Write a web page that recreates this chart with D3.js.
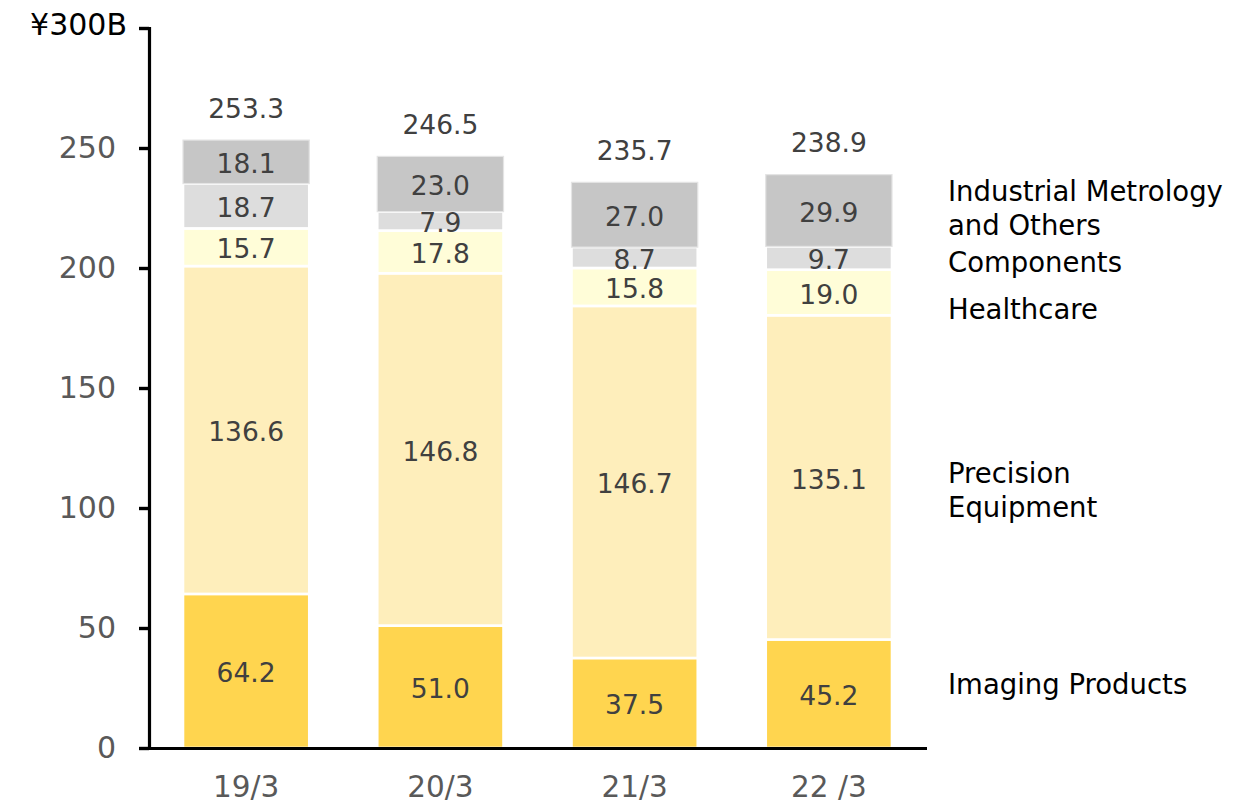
<!DOCTYPE html>
<html>
<head>
<meta charset="utf-8">
<script src="https://cdn.jsdelivr.net/npm/d3@7"></script>
<style>
  html, body { margin: 0; padding: 0; background: #fff; }
  svg { display: block; font-family: "DejaVu Sans", Verdana, sans-serif; }
</style>
</head>
<body>
<svg id="chart" width="1241" height="804"></svg>
<script>
// Fiscal years (March year-end)
const years = ["19/3", "20/3", "21/3", "22 /3"];

// Segment revenue, ¥ billions (bottom to top of each stack)
const imaging     = [64.2, 51.0, 37.5, 45.2];
const precision   = [136.6, 146.8, 146.7, 135.1];
const healthcare  = [15.7, 17.8, 15.8, 19.0];
const components  = [18.7, 7.9, 8.7, 9.7];
const industrial  = [18.1, 23.0, 27.0, 29.9];
const totals      = [253.3, 246.5, 235.7, 238.9];

const segmentNames = ["Imaging Products", "Precision Equipment", "Healthcare", "Components", "Industrial Metrology and Others"];
const segmentValues = [imaging, precision, healthcare, components, industrial];
const segmentColors = ["#FFD54F", "#FEEEBB", "#FFFDD8", "#DDDDDD", "#C6C6C6"];

// Right-hand segment captions (lines of text)
const captionLines = [
  ["Industrial Metrology", "and Others"],
  ["Components"],
  ["Healthcare"],
  ["Precision", "Equipment"],
  ["Imaging Products"]
];
// Value on the y scale where each caption block is centred
const captionAnchors = [225, 202.5, 183, 107.5, 27];

const yTicks = [0, 50, 100, 150, 200, 250, 300];

const svg = d3.select("#chart");

const x = d3.scaleBand()
  .domain(years)
  .range([149, 926])
  .paddingInner(0.35)
  .paddingOuter(0.175);

const y = d3.scaleLinear()
  .domain([0, 300])
  .range([748, 28]);

// Build stacked rows
const rows = years.map((yr, i) => {
  const r = { year: yr };
  segmentNames.forEach((n, k) => { r[n] = segmentValues[k][i]; });
  return r;
});
const stack = d3.stack().keys(segmentNames)(rows);

// Bars
const layers = svg.append("g").selectAll("g")
  .data(stack)
  .join("g")
  .attr("fill", (d, k) => segmentColors[k]);

layers.selectAll("rect")
  .data(d => d.map(p => ({ p, key: d.key, idx: d.index })))
  .join("rect")
  .attr("x", d => x(d.p.data.year))
  .attr("width", x.bandwidth())
  .attr("y", d => y(d.p[1]))
  .attr("height", d => y(d.p[0]) - y(d.p[1]))
  .attr("stroke", d => d.idx === segmentNames.length - 1 ? "#e4e4e4" : "#ffffff")
  .attr("stroke-width", d => d.idx === segmentNames.length - 1 ? 1.2 : 2.6);

// Y axis
const yAxis = svg.append("g")
  .attr("transform", "translate(149,0)")
  .call(d3.axisLeft(y).tickValues(yTicks).tickSize(10).tickPadding(23)
    .tickFormat(d => d === 300 ? "¥300B" : d3.format("d")(d)));
yAxis.select(".domain").attr("stroke", "#000").attr("stroke-width", 3.2);
yAxis.selectAll(".tick line").attr("stroke", "#000").attr("stroke-width", 3.4);
yAxis.selectAll(".tick text")
  .attr("font-family", "DejaVu Sans, Verdana, sans-serif")
  .attr("font-size", 30)
  .attr("fill", "#595959");
yAxis.selectAll(".tick").filter(d => d === 300).select("text")
  .attr("fill", "#000")
  .attr("x", -22)
  .attr("dy", "0.22em");

// X axis
const xAxis = svg.append("g")
  .attr("transform", "translate(0,748.5)")
  .call(d3.axisBottom(x).tickSize(0).tickPadding(28));
xAxis.select(".domain")
  .attr("d", "M147.5,0H927")
  .attr("stroke", "#000").attr("stroke-width", 3.2);
xAxis.selectAll(".tick text")
  .attr("font-family", "DejaVu Sans, Verdana, sans-serif")
  .attr("font-size", 29.5)
  .attr("fill", "#595959");

// Segment value labels
const labels = svg.append("g")
  .attr("font-size", 26.5)
  .attr("fill", "#404040")
  .attr("text-anchor", "middle");

stack.forEach(layer => {
  layer.forEach(p => {
    labels.append("text")
      .attr("x", x(p.data.year) + x.bandwidth() / 2)
      .attr("y", y((p[0] + p[1]) / 2))
      .attr("dy", "0.42em")
      .text(d3.format(".1f")(p[1] - p[0]));
  });
});

// Totals above the bars
years.forEach((yr, i) => {
  labels.append("text")
    .attr("x", x(yr) + x.bandwidth() / 2)
    .attr("y", y(totals[i]) - 33)
    .attr("dy", "0.4em")
    .text(d3.format(".1f")(totals[i]));
});

// Segment captions on the right
const captions = svg.append("g")
  .attr("font-size", 27.5)
  .attr("fill", "#000");

captionLines.forEach((lines, k) => {
  const lh = 34;
  const cy = y(captionAnchors[k]);
  const t = captions.append("text")
    .attr("x", 948)
    .attr("y", cy - (lines.length - 1) * lh / 2);
  lines.forEach((ln, j) => {
    t.append("tspan")
      .attr("x", 948)
      .attr("dy", j === 0 ? "0.38em" : lh)
      .text(ln);
  });
});
</script>
</body>
</html>
